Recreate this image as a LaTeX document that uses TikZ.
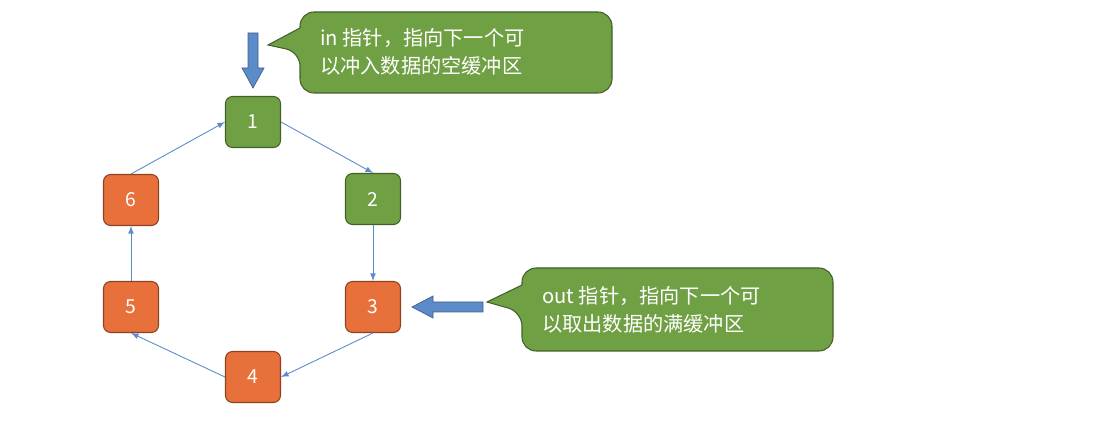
\documentclass[tikz,border=0pt]{standalone}
\usepackage{fontspec}
\setmainfont{Noto Sans CJK SC}
\begin{document}
\begin{tikzpicture}[x=0.02cm,y=-0.02cm,
 box/.style={draw=#1!60!black,fill=#1,rounded corners=4pt,minimum width=1.1cm,minimum height=1.02cm,text=white,font=\fontsize{11}{13}\selectfont,line width=0.6pt},
 con/.style={draw=arrowblue,-latex,line width=0.5pt},
 callout/.style={fill=gr,draw=gr!60!black,line width=0.6pt},
 ctext/.style={text=white,align=left,font=\fontsize{11.5}{16}\selectfont,anchor=west}]
\definecolor{gr}{HTML}{70A044}
\definecolor{og}{HTML}{E8703A}
\definecolor{arrowblue}{HTML}{5B8BC9}
\useasboundingbox (0,0) rectangle (1114,421);
\node[box=gr] (n1) at (253,122) {1};
\node[box=gr] (n2) at (373,199) {2};
\node[box=og] (n3) at (373,307) {3};
\node[box=og] (n4) at (253,377) {4};
\node[box=og] (n5) at (131,307) {5};
\node[box=og] (n6) at (131,200) {6};
\draw[con] (n1.east) -- (n2.north);
\draw[con] (n2.south) -- (n3.north);
\draw[con] (n3.south) -- (n4.east);
\draw[con] (n4.west) -- (n5.south);
\draw[con] (n5.north) -- (n6.south);
\draw[con] (n6.north) -- (n1.west);
% thick arrows
\fill[arrowblue,draw=arrowblue!70!black,line width=0.4pt] (248,33) -- (258,33) -- (258,68) -- (264,68) -- (253,88) -- (242,68) -- (248,68) -- cycle;
\fill[arrowblue,draw=arrowblue!70!black,line width=0.4pt] (483,302) -- (483,312) -- (433,312) -- (433,318) -- (412,307) -- (433,296) -- (433,302) -- cycle;
% callouts
\draw[callout,rounded corners=8pt] (300,28) -- (300,12) -- (612,12) -- (612,93) -- (300,93) -- (300,52) [sharp corners] -- (268,45) -- cycle;
\node[ctext] (t1) at (314,52) {in 指针，指向下一个可\\以冲入数据的空缓冲区};
\draw[callout,rounded corners=8pt] (522,285) -- (522,268) -- (833,268) -- (833,351) -- (522,351) -- (522,312) [sharp corners] -- (487,302) -- cycle;
\node[ctext] (t2) at (536,310) {out 指针，指向下一个可\\以取出数据的满缓冲区};
\end{tikzpicture}
\end{document}
